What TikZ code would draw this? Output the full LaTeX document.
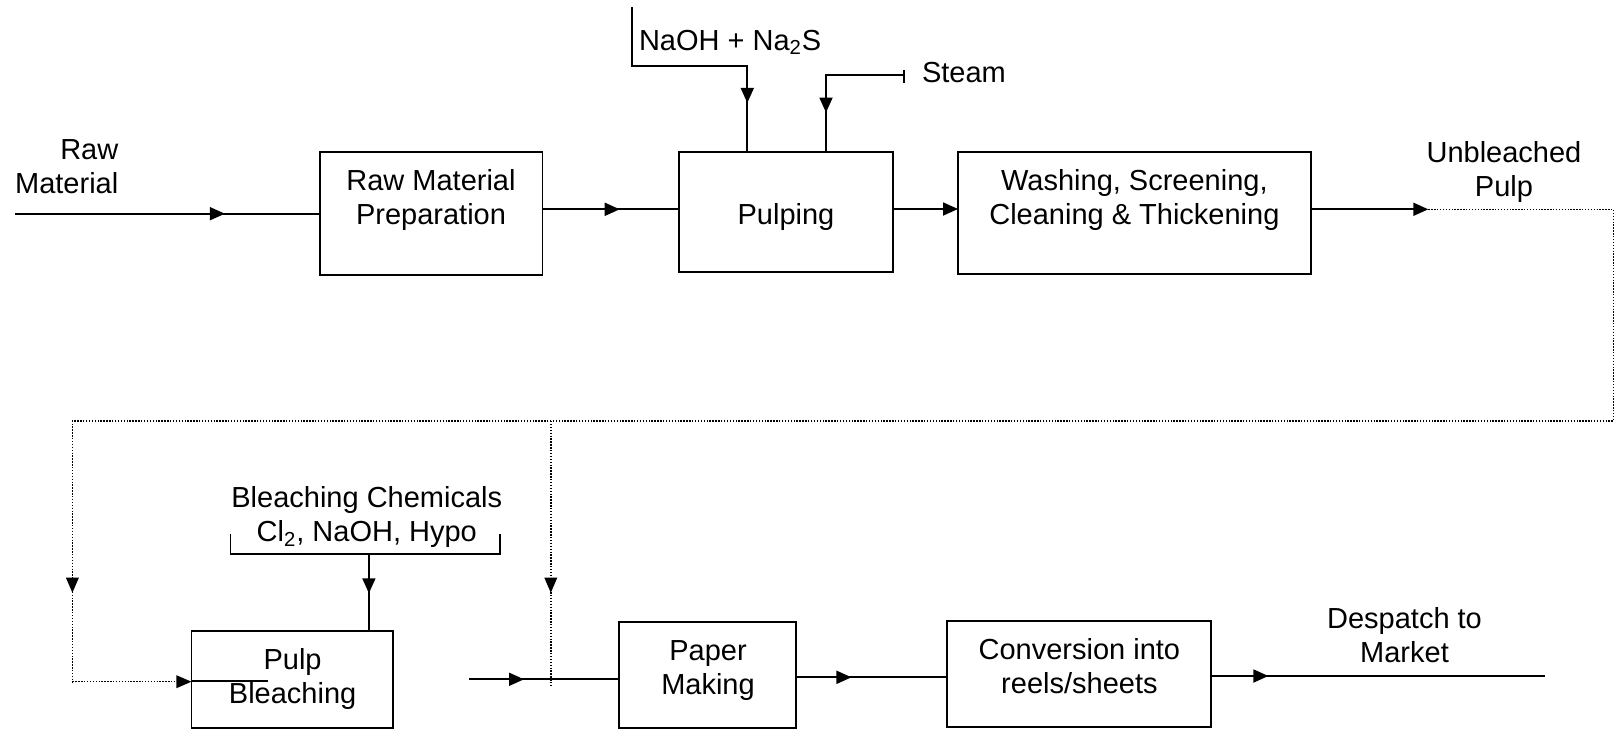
\documentclass[tikz,border=0pt]{standalone}
\usepackage{fontspec}
\setmainfont{Liberation Sans}
\usetikzlibrary{arrows.meta,decorations.markings}
\tikzset{
  x=0.5pt, y=-0.5pt,
  every node/.style={font=\fontsize{14.5}{17}\selectfont, inner sep=0pt, outer sep=0pt},
  box/.style={draw, line width=0.9pt, rectangle},
  txt/.style={align=center},
  conn/.style={line width=0.9pt},
  dots/.style={line width=0.75pt, dash pattern=on 0.7pt off 0.75pt},
  tip/.style={-{Triangle[length=7.5pt,width=6.5pt]}},
  arrowat/.style={postaction={decorate}, decoration={markings,
      mark=at position #1 with {\arrow{Triangle[length=7.5pt,width=6.5pt]}}}}
}
\begin{document}
\begin{tikzpicture}
\useasboundingbox (0,0) rectangle (1619,729);

% boxes
\node[box, minimum width=111.4pt, minimum height=61.5pt] (rmp) at (431,213.5) {};
\node[box, minimum width=107pt, minimum height=60pt] (pulp) at (786,211.6) {};
\node[box, minimum width=176.4pt, minimum height=61.2pt] (wash) at (1134.4,212.9) {};
\node[box, minimum width=100.6pt, minimum height=48.8pt] (bleach) at (292,679.5) {};
\node[box, minimum width=88.5pt, minimum height=53pt] (paper) at (707.5,675.3) {};
\node[box, minimum width=132.3pt, minimum height=52.9pt] (conv) at (1079,673.9) {};

% texts
\node[txt, align=right, anchor=east] (rawlbl) at (118.3,170) {Raw\strut\\Material\strut};
\node[txt] (rmptxt) at (431,201) {Raw Material\strut\\Preparation\strut};
\node[txt] (pulptxt) at (786,217.5) {Pulping\strut};
\node[txt] (washtxt) at (1134.4,201) {Washing, Screening,\strut\\Cleaning \& Thickening\strut};
\node[txt] (unbl) at (1504,173) {Unbleached\strut\\Pulp\strut};
\node[anchor=west] (naoh) at (639,43.4) {NaOH + Na\textsubscript{2}S\strut};
\node[anchor=west] (steam) at (922,75.4) {Steam\strut};
\node[txt] (chem) at (366.8,518) {Bleaching Chemicals\strut\\Cl\textsubscript{2}, NaOH, Hypo\strut};
\node[txt] (bltxt) at (292.6,679.5) {Pulp\strut\\Bleaching\strut};
\node[txt] (pmtxt) at (708,671) {Paper\strut\\Making\strut};
\node[txt] (cvtxt) at (1079.4,670) {Conversion into\strut\\reels/sheets\strut};
\node[txt] (desp) at (1404.5,638.5) {Despatch to\strut\\Market\strut};

% coordinates
\coordinate (in1) at (15,213.7);
\coordinate (ubtip) at (1428.3,209.3);
\coordinate (dR) at (1613.3,209.3);
\coordinate (dRB) at (1613.3,421);
\coordinate (dL) at (72.4,421);
\coordinate (dLB) at (72.4,681.7);
\coordinate (dM) at (550.8,421);
\coordinate (dMB) at (550.8,685);
\coordinate (pin) at (469.4,679.3);
\coordinate (out) at (1545,676);
\coordinate (n1) at (632.3,7);
\coordinate (n2) at (632.3,65.7);
\coordinate (n3) at (747.3,65.7);
\coordinate (s1) at (904,74.7);
\coordinate (s2) at (826,74.7);
\coordinate (bk1) at (230.5,534.3);
\coordinate (bk2) at (230.5,554);
\coordinate (bk3) at (500.2,554);
\coordinate (bk4) at (500.2,534.3);
\coordinate (bkm) at (368.9,554);
\coordinate (pm) at (796,677.3);

% solid connectors
\draw[conn, arrowat=0.689] (in1) -- (in1 -| rmp.west);
\draw[conn, arrowat=0.566] (rmp.east |- 0,209.3) -- (pulp.west |- 0,209.3);
\draw[conn, tip] (pulp.east |- 0,209) -- (wash.west |- 0,209);
\draw[conn, tip] (wash.east |- ubtip) -- (ubtip);
\draw[conn, arrowat=0.365] (pin) -- (pin -| paper.west);
\draw[conn, arrowat=0.368] (pm) -- (pm -| conv.west);
\draw[conn, arrowat=0.171] (conv.east |- out) -- (out);
\draw[conn, arrowat=0.8125] (n1) -- (n2) -- (n3) -- (n3 |- pulp.north);
\draw[conn] (904,70) -- (904,83);
\draw[conn, arrowat=0.748] (s1) -- (s2) -- (s2 |- pulp.north);
\draw[conn] (bk1) -- (bk2) -- (bk3) -- (bk4);
\draw[conn, arrowat=0.512] (bkm) -- (bkm |- bleach.north);
\draw[conn] (bleach.west |- 0,681) -- ++(77,0);

% dotted connectors
\draw[dots] (ubtip) -- (dR) -- (dRB) -- (dL) -- (dLB);
\draw[dots] (dLB) -- (dLB -| bleach.west);
\fill (dLB -| bleach.west) -- ++(-15,-6.5) -- ++(0,13) -- cycle;
\fill (72.4,592.7) -- ++(-6.5,-15) -- ++(13,0) -- cycle;
\draw[dots] (dM) -- (dMB);
\fill (550.8,592.7) -- ++(-6.5,-15) -- ++(13,0) -- cycle;
\end{tikzpicture}
\end{document}
